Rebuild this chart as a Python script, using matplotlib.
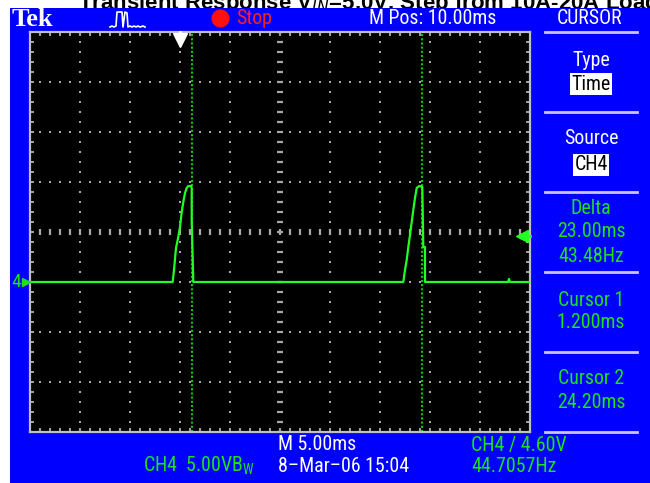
import numpy as np
import matplotlib
matplotlib.use("Agg")
import matplotlib.pyplot as plt
from matplotlib.patches import Rectangle
from matplotlib.lines import Line2D
from matplotlib import font_manager

# scope settings
time_per_div = 5.0     # ms/div
volt_per_div = 5.0     # V/div
m_pos = 10.0           # ms at screen centre
ch4_pos_div = -1       # ground marker one div below centre
trig_level = 4.60      # V
trig_time = 0.0        # ms
cursor1 = 1.200        # ms
cursor2 = 24.20        # ms

# CH4 trace (ms, V)
trace_t = [-15.0, -0.73, -0.6, -0.4, -0.17, 0.0, 0.17, 0.33, 0.5, 0.67, 0.83, 1.1, 1.17, 1.17, 1.33,
           22.33, 22.5, 22.67, 22.83, 23.0, 23.17, 23.33, 23.5, 23.67, 23.93, 24.23, 24.33, 24.5, 24.5,
           32.8, 32.9, 33.0, 35.0]
trace_v = [0.0, 0.0, 1.2, 3.4, 4.5, 5.5, 7.0, 8.0, 8.9, 9.4, 9.6, 9.6, 9.4, 6.2, 0.0,
           0.0, 1.2, 2.2, 3.5, 4.7, 6.0, 7.2, 8.4, 9.4, 9.6, 9.5, 3.5, 3.5, 0.0,
           0.0, 0.3, 0.0, 0.0]

# readouts
top_labels = ["M Pos: 10.00ms", "CURSOR"]
menu_white = ["Type", "Source"]
menu_boxes = ["Time", "CH4"]
delta_lines = ["Delta", "23.00ms", "43.48Hz"]
cur1_lines = ["Cursor 1", "1.200ms"]
cur2_lines = ["Cursor 2", "24.20ms"]
title = "Transient Response V$_{IN}$=5.0V, Step from 10A-20A Load"

W, H = 650, 483
BLUE = "#0000ff"
GREEN = "#1ee01e"
TRACE = "#22ff22"
GRID = "#a8a8a8"

# the scope font is a narrow sans, take one if it is there
names = {f.name for f in font_manager.fontManager.ttflist}
narrow = "DejaVu Sans"
for cand in ["Liberation Sans Narrow", "Roboto Condensed", "DejaVu Sans Condensed",
             "Open Sans Condensed", "Noto Sans Condensed"]:
    if cand in names:
        narrow = cand
        break
plt.rcParams["font.family"] = [narrow, "DejaVu Sans"]
FS = 14.3 if narrow != "DejaVu Sans" else 12


def fx(x):
    return x / W


def fy(y):
    return 1 - y / H


fig = plt.figure(figsize=(W / 100, H / 100), dpi=100)
fig.patch.set_facecolor("white")

# blue instrument background, title mostly cut off above it
fig.text(fx(78), fy(9), title, fontsize=16, fontweight="bold", color="black",
         family=["Liberation Sans", "DejaVu Sans"], va="baseline", zorder=-2)
fig.patches.append(Rectangle((fx(10), 0), 1 - fx(10), fy(8), transform=fig.transFigure,
                             facecolor=BLUE, edgecolor="none", zorder=-1))

ax = fig.add_axes([fx(30), fy(432), 500 / W, 400 / H])
ax.set_facecolor("black")
t0 = m_pos - 5 * time_per_div
t1 = m_pos + 5 * time_per_div
vc = -ch4_pos_div * volt_per_div
v0 = vc - 4 * volt_per_div
v1 = vc + 4 * volt_per_div
ax.set_xlim(t0, t1)
ax.set_ylim(v0, v1)

# graticule
minor_t = np.arange(t0, t1 + 0.01, time_per_div / 5)
minor_v = np.arange(v0, v1 + 0.01, volt_per_div / 5)
for gt in np.arange(t0 + time_per_div, t1, time_per_div):
    if abs(gt - m_pos) < 1e-6:
        ax.scatter(np.full(len(minor_v), gt), minor_v, marker="_", s=22, color=GRID, linewidths=1.6, zorder=1)
    else:
        ax.scatter(np.full(len(minor_v), gt), minor_v, marker="s", s=2.2, color=GRID, linewidths=0, zorder=1)
for gv in np.arange(v0 + volt_per_div, v1, volt_per_div):
    if abs(gv - vc) < 1e-6:
        ax.scatter(minor_t, np.full(len(minor_t), gv), marker="|", s=22, color=GRID, linewidths=1.6, zorder=1)
    else:
        ax.scatter(minor_t, np.full(len(minor_t), gv), marker="s", s=2.2, color=GRID, linewidths=0, zorder=1)

ax.set_xticks(minor_t)
ax.set_yticks(minor_v)
ax.tick_params(direction="in", length=3, width=1.2, color="#c0c0c0",
               top=True, right=True, labelbottom=False, labelleft=False)
for sp in ax.spines.values():
    sp.set_color("#c0c0c0")
    sp.set_linewidth(1.6)

# cursors
for c in (cursor1, cursor2):
    ax.axvline(c, color="#10c810", lw=1.5, linestyle=(0, (1, 1)), zorder=2)

# waveform
ax.plot(trace_t, trace_v, color=TRACE, lw=1.6, zorder=3)

# trigger markers
ax.plot([trig_time, trig_time], [v1, v1 - 0.5], color="white", lw=2, clip_on=False, zorder=4)
ax.plot([trig_time], [v1 - 0.8], marker="v", markersize=10, color="white", clip_on=False, zorder=4)
ax.plot([t1 - 0.9, t1], [trig_level, trig_level], color=TRACE, lw=2, clip_on=False, zorder=4)
ax.plot([t1 - 0.8], [trig_level], marker="<", markersize=9, color=TRACE, clip_on=False, zorder=4)

# ground marker
fig.text(fx(11), fy(282), "4", color=GREEN, fontsize=14, va="center", ha="left")
fig.add_artist(Line2D([fx(26)], [fy(282)], marker=">", markersize=6, color=GREEN,
                      transform=fig.transFigure))
fig.add_artist(Line2D([fx(26), fx(30)], [fy(282), fy(282)], color=GREEN, lw=1.5,
                      transform=fig.transFigure))

# top bar
fig.text(fx(12), fy(20), "Tek", color="white", fontsize=19, fontweight="bold",
         family=["Liberation Serif", "DejaVu Serif"], va="center", ha="left")
icon_x = [110, 112, 114, 116, 117, 118, 122, 123, 125, 127, 128, 130, 132, 134, 136, 138, 140, 143, 145]
icon_y = [27, 26, 27, 26, 12, 12, 12, 27, 12, 13, 27, 26, 27, 26, 27, 26, 27, 26, 27]
fig.add_artist(Line2D([fx(v) for v in icon_x], [fy(v) for v in icon_y], color="white", lw=1.2,
                      transform=fig.transFigure))
fig.add_artist(Line2D([fx(220)], [fy(18)], marker="o", markersize=12, color="#ff1010",
                      transform=fig.transFigure))
fig.text(fx(236), fy(18), "Stop", color="#ff2020", fontsize=FS, va="center", ha="left")
fig.text(fx(433), fy(18), top_labels[0], color="white", fontsize=FS, va="center", ha="center")
fig.text(fx(590), fy(18), top_labels[1], color="white", fontsize=FS, va="center", ha="center")

# right menu
for ysep in (32, 112, 192, 272, 352, 432):
    fig.add_artist(Line2D([fx(545), fx(637)], [fy(ysep), fy(ysep)], color="#c8c8f0", lw=2,
                          transform=fig.transFigure))
cx = fx(591)
fig.text(cx, fy(60), menu_white[0], color="white", fontsize=FS, va="center", ha="center")
fig.text(cx, fy(84), menu_boxes[0], color="black", fontsize=FS, va="center", ha="center",
         bbox=dict(facecolor="white", edgecolor="none", pad=1.2))
fig.text(cx, fy(139), menu_white[1], color="white", fontsize=FS, va="center", ha="center")
fig.text(cx, fy(165), menu_boxes[1], color="black", fontsize=FS, va="center", ha="center",
         bbox=dict(facecolor="white", edgecolor="none", pad=1.2))
for txt, yy in zip(delta_lines, (208, 232, 256)):
    fig.text(cx, fy(yy), txt, color=GREEN, fontsize=FS, va="center", ha="center")
for txt, yy in zip(cur1_lines, (300, 323)):
    fig.text(cx, fy(yy), txt, color=GREEN, fontsize=FS, va="center", ha="center")
for txt, yy in zip(cur2_lines, (379, 403)):
    fig.text(cx, fy(yy), txt, color=GREEN, fontsize=FS, va="center", ha="center")

# bottom readouts
fig.text(fx(317), fy(445), "M 5.00ms", color="white", fontsize=FS, va="center", ha="center")
fig.text(fx(471), fy(445), "CH4 / 4.60V", color=GREEN, fontsize=FS, va="center", ha="left")
fig.text(fx(143), fy(466), r"CH4  5.00VB$_\mathregular{W}$", color=GREEN, fontsize=FS,
         va="center", ha="left")
fig.text(fx(278), fy(466), "8\u2013Mar\u201306 15:04", color="white", fontsize=FS, va="center", ha="left")
fig.text(fx(471), fy(466), "44.7057Hz", color=GREEN, fontsize=FS, va="center", ha="left")

fig.savefig("out.png", dpi=100, facecolor=fig.get_facecolor())
